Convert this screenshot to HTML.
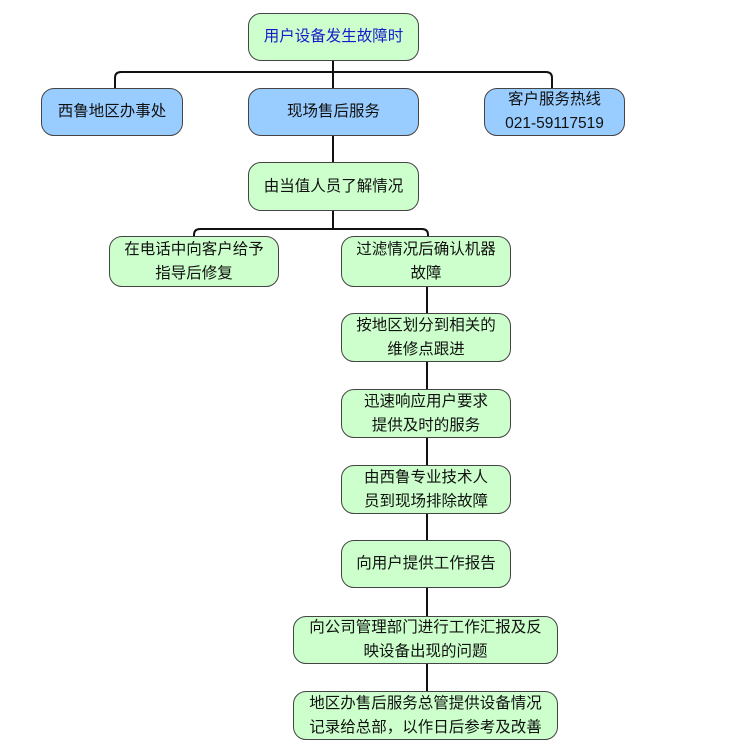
<!DOCTYPE html>
<html><head><meta charset="utf-8"><style>
body{margin:0;width:731px;height:755px;background:#fff;position:relative;overflow:hidden;font-family:"Liberation Sans","Noto Sans CJK SC",sans-serif;}
.b{position:absolute;box-sizing:border-box;border:1.3px solid #444;border-radius:13px;display:flex;align-items:center;justify-content:center;text-align:center;font-size:15.5px;line-height:24px;color:#111;}
.g{background:#ccffcc}.u{background:#99ccff}
</style></head><body>
<svg width="731" height="755" style="position:absolute;left:0;top:0" fill="none" stroke="#111" stroke-width="2">
<path d="M333 61V88M115 88V78Q115 72 121 72H546Q552 72 552 78V88"/>
<path d="M333 136V162M333 211V229M194 236V235Q194 229 200 229H422Q428 229 428 235V236"/>
<path d="M427 287V740"/>
</svg>
<div class="b g" style="left:248px;top:13px;width:171px;height:48px;color:#1a1acc">用户设备发生故障时</div>
<div class="b u" style="left:41px;top:88px;width:142px;height:48px">西鲁地区办事处</div>
<div class="b u" style="left:248px;top:88px;width:171px;height:48px">现场售后服务</div>
<div class="b u" style="left:484px;top:88px;width:141px;height:48px">客户服务热线<br>021-59117519</div>
<div class="b g" style="left:248px;top:162px;width:171px;height:49px">由当值人员了解情况</div>
<div class="b g" style="left:109px;top:236px;width:170px;height:51px">在电话中向客户给予<br>指导后修复</div>
<div class="b g" style="left:341px;top:236px;width:170px;height:51px">过滤情况后确认机器<br>故障</div>
<div class="b g" style="left:341px;top:313px;width:170px;height:49px">按地区划分到相关的<br>维修点跟进</div>
<div class="b g" style="left:341px;top:389px;width:170px;height:49px">迅速响应用户要求<br>提供及时的服务</div>
<div class="b g" style="left:341px;top:465px;width:170px;height:49px">由西鲁专业技术人<br>员到现场排除故障</div>
<div class="b g" style="left:341px;top:540px;width:170px;height:48px">向用户提供工作报告</div>
<div class="b g" style="left:293px;top:616px;width:265px;height:48px">向公司管理部门进行工作汇报及反<br>映设备出现的问题</div>
<div class="b g" style="left:293px;top:691px;width:265px;height:49px">地区办售后服务总管提供设备情况<br>记录给总部，以作日后参考及改善</div>
</body></html>
